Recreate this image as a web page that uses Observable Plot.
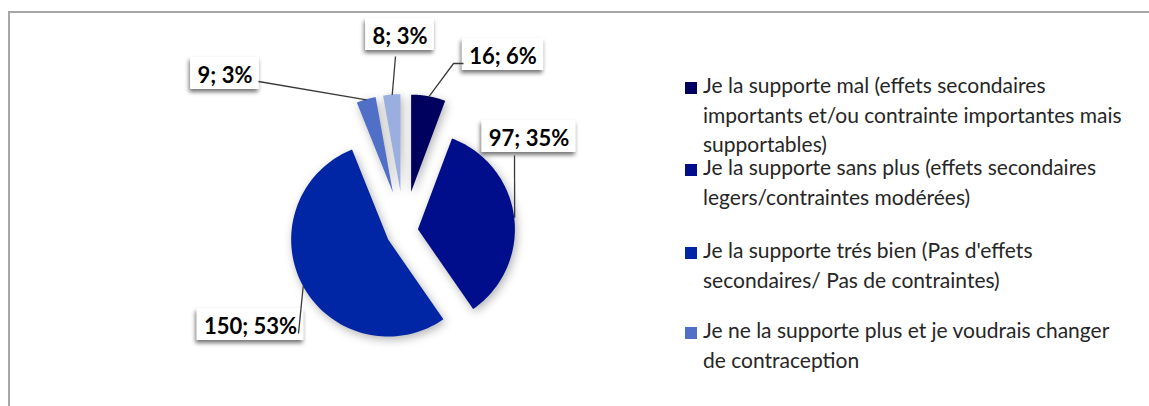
<!DOCTYPE html>
<html><head><meta charset="utf-8">
<script src="https://cdn.jsdelivr.net/npm/d3@7"></script>
<script src="https://cdn.jsdelivr.net/npm/@observablehq/plot@0.6"></script>
<style>
html,body{margin:0;padding:0;background:#fff;}
#wrap{position:relative;width:1149px;height:406px;overflow:hidden;font-family:Lato,"Open Sans",sans-serif;}
#frame{position:absolute;left:8px;top:11px;right:-10px;bottom:-10px;border-top:2px solid #a6a6a6;border-left:2px solid #a6a6a6;}
#chart{position:absolute;left:0;top:0;}
#legend{position:absolute;left:0;top:0;}
.entry{position:absolute;left:703px;font-size:21px;line-height:29.5px;color:#262626;white-space:pre;}
.swatch{position:absolute;left:685px;width:12px;height:12px;}
</style></head>
<body><div id="wrap"><div id="frame"></div><div id="chart"></div><div id="legend"></div></div>
<script>
// ---- data ----
const sliceKeys = ["mal", "sansPlus", "tresBien", "changer", "autre"];
const categories = [
  "Je la supporte mal (effets secondaires\nimportants et/ou contrainte importantes mais\nsupportables)",
  "Je la supporte sans plus (effets secondaires\nlegers/contraintes modérées)",
  "Je la supporte trés bien (Pas d'effets\nsecondaires/ Pas de contraintes)",
  "Je ne la supporte plus et je voudrais changer\nde contraception",
  ""
];
const counts = [16, 97, 150, 9, 8];
const percentLabels = ["6%", "35%", "53%", "3%", "3%"];
const colors = ["#00005f", "#000e8c", "#0026a6", "#5070c8", "#9aaee0"];

// ---- layout (pie units) ----
const radius = 0.97;
const explode = [0.40, 0.14, 0.18, 0.40, 0.40];
const labelCenter = [[0.985, 1.75], [1.245, 0.93], [-1.54, -0.95], [-1.795, 1.56], [-0.045, 1.95]];
const leaderStart = [[[0.59, 1.68], [0.49, 1.68]], [[1.10, 0.76]], [[-1.06, -1.02]], [[-1.46, 1.50]], [[-0.09, 1.75]]];
const legendBaselines = [93, 175, 258, 338];

// ---- geometry from data ----
const arcs = d3.pie().sort(null).value(d => d)(counts);
const N = 90;
const polys = [];
const leaders = [];
arcs.forEach((p, i) => {
  const key = sliceKeys[i];
  const m = (p.startAngle + p.endAngle) / 2;
  const tx = explode[i] * Math.sin(m), ty = explode[i] * Math.cos(m);
  for (let k = 0; k <= N; k++) {
    const a = p.startAngle + (p.endAngle - p.startAngle) * k / N;
    polys.push({key, x: tx + radius * Math.sin(a), y: ty + radius * Math.cos(a), tx, ty});
  }
  leaderStart[i].forEach(([x, y]) => leaders.push({key, x, y}));
  leaders.push({key, x: tx + radius * Math.sin(m), y: ty + radius * Math.cos(m)});
});

const ctx = document.createElement("canvas").getContext("2d");
ctx.font = "bold 22px Lato";
const labels = counts.map((c, i) => {
  const text = `${c}; ${percentLabels[i]}`;
  const w = ctx.measureText(text).width / 100;
  const [cx, cy] = labelCenter[i];
  return {key: sliceKeys[i], text, x: cx, y: cy, x1: cx - w / 2 - 0.07, x2: cx + w / 2 + 0.07, y1: cy - 0.14, y2: cy + 0.18};
});

const plot = Plot.plot({
  width: 660, height: 406, margin: 0,
  x: {domain: [-4.04, 2.56], axis: null},
  y: {domain: [-1.75, 2.31], axis: null},
  color: {domain: sliceKeys, range: colors},
  style: {background: "transparent", overflow: "visible"},
  marks: [
    Plot.area(polys, {x1: "x", y1: "y", x2: "tx", y2: "ty", z: "key", fill: "#000", fillOpacity: 0.3, dx: 2, dy: 3, imageFilter: "blur(5px)"}),
    Plot.area(polys, {x1: "x", y1: "y", x2: "tx", y2: "ty", z: "key", fill: "key"}),
    Plot.rect(labels, {x1: "x1", x2: "x2", y1: "y1", y2: "y2", fill: "#000", fillOpacity: 0.55, dx: -1, dy: 3, imageFilter: "blur(2px)"}),
    Plot.rect(labels, {x1: "x1", x2: "x2", y1: "y1", y2: "y2", fill: "#fff"}),
    Plot.line(leaders, {x: "x", y: "y", z: "key", stroke: "#3a3a3a", strokeWidth: 1.3, strokeLinecap: "butt"}),
    Plot.text(labels, {x: "x", y: "y", text: "text", fontSize: 22, fontWeight: "bold", fontFamily: "Lato", fill: "#000"})
  ]
});
document.getElementById("chart").appendChild(plot);

// ---- legend ----
const legend = document.getElementById("legend");
categories.slice(0, 4).forEach((c, i) => {
  const sw = document.createElement("div");
  sw.className = "swatch";
  sw.style.top = (legendBaselines[i] - 11) + "px";
  sw.style.background = colors[i];
  legend.appendChild(sw);
  const t = document.createElement("div");
  t.className = "entry";
  t.style.top = (legendBaselines[i] - 22.9) + "px";
  t.textContent = c;
  legend.appendChild(t);
});
</script>
</body></html>
